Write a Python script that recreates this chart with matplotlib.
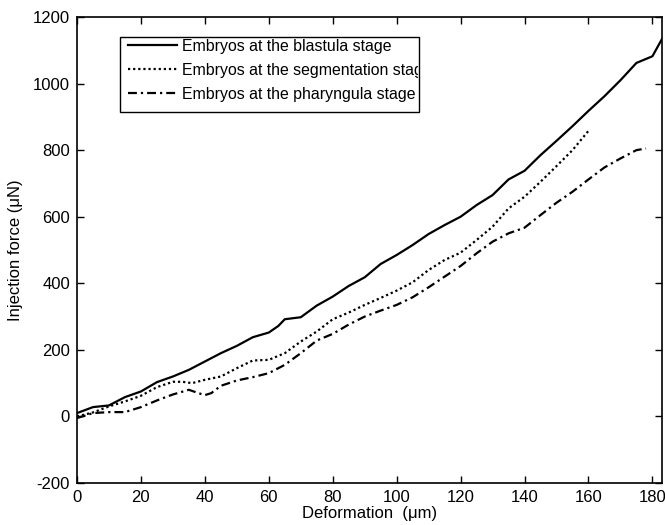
import matplotlib
matplotlib.use("Agg")
import matplotlib.pyplot as plt
from matplotlib.patches import Rectangle
from matplotlib.transforms import Bbox, TransformedBbox

plt.rcParams['font.family'] = ['Liberation Sans', 'DejaVu Sans']
plt.rcParams['axes.unicode_minus'] = False

x_blastula = [0, 5, 10, 15, 20, 25, 30, 35, 40, 45, 50, 55, 60, 63, 65, 70, 75, 80, 85, 90,
              95, 100, 105, 110, 115, 120, 125, 130, 135, 140, 145, 150, 155, 160, 165,
              170, 175, 180, 183]
y_blastula = [10, 28, 33, 58, 75, 103, 120, 140, 165, 190, 212, 238, 252, 272, 292, 298, 333,
              360, 392, 418, 458, 485, 515, 548, 575, 600, 635, 665, 712, 738, 785, 828,
              872, 918, 962, 1010, 1062, 1082, 1134]

x_segment = [0, 5, 10, 15, 20, 25, 30, 33, 36, 40, 45, 50, 55, 60, 65, 70, 75, 80, 85, 90,
             95, 100, 105, 110, 115, 120, 125, 130, 135, 140, 145, 150, 155, 160]
y_segment = [0, 12, 30, 45, 62, 88, 104, 104, 100, 110, 120, 145, 168, 170, 190, 225, 255,
             292, 312, 335, 356, 378, 403, 440, 470, 492, 530, 570, 625, 660, 705, 752,
             800, 858]

x_pharyn = [0, 5, 10, 15, 20, 25, 30, 35, 38, 40, 42, 45, 50, 55, 60, 65, 70, 75, 80, 85,
            90, 95, 100, 105, 110, 115, 120, 125, 130, 135, 140, 145, 150, 155, 160, 165,
            170, 175, 178]
y_pharyn = [-5, 10, 13, 13, 28, 48, 66, 80, 70, 64, 70, 92, 108, 118, 130, 155, 190, 228,
            248, 276, 300, 318, 335, 358, 388, 420, 452, 490, 525, 550, 567, 605, 642,
            675, 712, 748, 775, 800, 805]

labels = ["Embryos at the blastula stage",
          "Embryos at the segmentation stage",
          "Embryos at the pharyngula stage"]
x_ticks = [0, 20, 40, 60, 80, 100, 120, 140, 160, 180]
y_ticks = [-200, 0, 200, 400, 600, 800, 1000, 1200]

W, H = 665, 525
fig = plt.figure(figsize=(W / 100, H / 100), dpi=100)
ax = fig.add_axes([77/W, 42/H, 585/W, 466/H])

ax.plot(x_blastula, y_blastula, color='black', lw=1.6, linestyle='-', label=labels[0])
ax.plot(x_segment, y_segment, color='black', lw=1.6, linestyle=(0, (1, 1.3)), label=labels[1])
ax.plot(x_pharyn, y_pharyn, color='black', lw=1.6, linestyle=(0, (4, 1.8, 1, 1.8)), label=labels[2])

ax.set_xlim(0, 183)
ax.set_ylim(-200, 1200)
ax.set_xticks(x_ticks)
ax.set_yticks(y_ticks)
ax.tick_params(direction='in', length=5, width=1, top=True, right=True,
               labelsize=12, pad=5)
for s in ax.spines.values():
    s.set_linewidth(1.2)

ax.set_xlabel("Deformation  (\u03bcm)", fontsize=12, labelpad=1)
ax.set_ylabel("Injection force (\u03bcN)", fontsize=12, labelpad=7)

# legend box in pixel coordinates (left, top, right, bottom) of the figure
bx0, by0, bx1, by1 = 120, 37, 419, 112
leg = ax.legend(loc='upper left', bbox_to_anchor=((bx0 + 8) / W, 1 - (by0 + 2) / H),
                bbox_transform=fig.transFigure, fontsize=11.4,
                frameon=False, handlelength=3.1, handletextpad=0.32,
                borderpad=0.0, labelspacing=0.56, borderaxespad=0)
clip = TransformedBbox(Bbox.from_extents(bx0 / W, 1 - by1 / H, (bx1 - 1) / W, 1 - by0 / H),
                       fig.transFigure)
for t in leg.get_texts():
    t.set_clip_box(clip)
    t.set_clip_on(True)
frame = Rectangle((bx0 / W, 1 - by1 / H), (bx1 - bx0) / W, (by1 - by0) / H,
                  transform=fig.transFigure, fill=False, edgecolor='black', lw=1.0,
                  zorder=10)
fig.patches.append(frame)

fig.savefig("out.png", dpi=100)
